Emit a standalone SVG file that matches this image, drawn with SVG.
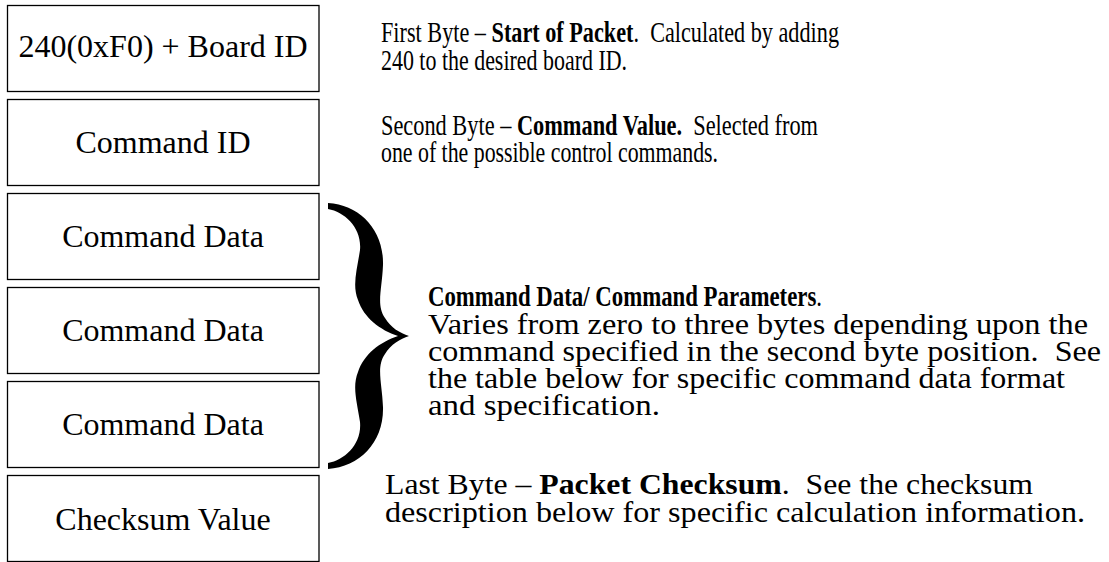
<svg xmlns="http://www.w3.org/2000/svg" width="1109" height="562" viewBox="0 0 1109 562">
  <style>
    .box { fill: #fff; stroke: #000; stroke-width: 1.3; }
    .cell { font-family: "Liberation Serif", "Times New Roman", serif; font-size: 32px; fill: #000; text-anchor: middle; }
    .note { font-family: "Liberation Serif", "Times New Roman", serif; font-size: 29.5px; fill: #000; white-space: pre; }
    .b { font-weight: bold; }
  </style>
  <rect width="1109" height="562" fill="#fff"/>

  <!-- packet byte cells -->
  <g id="byte-start">
    <rect class="box" x="7.5" y="5.5" width="311.5" height="86"/>
    <text class="cell" x="163" y="57">240(0xF0) + Board ID</text>
  </g>
  <g id="byte-command">
    <rect class="box" x="7.5" y="99.5" width="311.5" height="86"/>
    <text class="cell" x="163" y="153">Command ID</text>
  </g>
  <g id="byte-data1">
    <rect class="box" x="7.5" y="193.5" width="311.5" height="86"/>
    <text class="cell" x="163" y="247">Command Data</text>
  </g>
  <g id="byte-data2">
    <rect class="box" x="7.5" y="287.5" width="311.5" height="86"/>
    <text class="cell" x="163" y="341">Command Data</text>
  </g>
  <g id="byte-data3">
    <rect class="box" x="7.5" y="381.5" width="311.5" height="86"/>
    <text class="cell" x="163" y="435">Command Data</text>
  </g>
  <g id="byte-checksum">
    <rect class="box" x="7.5" y="475.5" width="311.5" height="86"/>
    <text class="cell" x="163" y="530">Checksum Value</text>
  </g>

  <!-- brace grouping the three data bytes -->
  <g id="connectors">
    <path id="data-brace" fill="#000" d="M 328 203 C 360 205, 384 230, 383 265 C 382 290, 376 305, 385 318 C 391 328, 400 333, 409 336 C 400 339, 391 344, 385 354 C 376 367, 382 382, 383 407 C 384 442, 360 467, 328 469 L 328 463 C 345 460, 362 444, 360 422 C 357 402, 352 387, 358 372 C 364 354, 380 342, 398 336 C 380 330, 364 318, 358 300 C 352 285, 357 270, 360 250 C 362 228, 345 212, 328 209 Z"/>
  </g>

  <!-- descriptions -->
  <g id="desc-start">
    <text class="note" x="381" y="42" textLength="458" lengthAdjust="spacingAndGlyphs">First Byte – <tspan class="b">Start of Packet</tspan>.  Calculated by adding</text>
    <text class="note" x="381" y="70" textLength="246" lengthAdjust="spacingAndGlyphs">240 to the desired board ID.</text>
  </g>
  <g id="desc-command">
    <text class="note" x="381" y="135" textLength="437" lengthAdjust="spacingAndGlyphs">Second Byte – <tspan class="b">Command Value.</tspan>  Selected from</text>
    <text class="note" x="381" y="162" textLength="337" lengthAdjust="spacingAndGlyphs">one of the possible control commands.</text>
  </g>
  <g id="desc-data">
    <text class="note" x="428" y="306" textLength="394" lengthAdjust="spacingAndGlyphs"><tspan class="b">Command Data/ Command Parameters</tspan>.</text>
    <text class="note" x="428" y="334" textLength="660" lengthAdjust="spacingAndGlyphs">Varies from zero to three bytes depending upon the</text>
    <text class="note" x="428" y="361" textLength="673" lengthAdjust="spacingAndGlyphs">command specified in the second byte position.  See</text>
    <text class="note" x="428" y="388" textLength="637" lengthAdjust="spacingAndGlyphs">the table below for specific command data format</text>
    <text class="note" x="428" y="415" textLength="232" lengthAdjust="spacingAndGlyphs">and specification.</text>
  </g>
  <g id="desc-checksum">
    <text class="note" x="385" y="494" textLength="648" lengthAdjust="spacingAndGlyphs">Last Byte – <tspan class="b">Packet Checksum</tspan>.  See the checksum</text>
    <text class="note" x="385" y="522" textLength="700" lengthAdjust="spacingAndGlyphs">description below for specific calculation information.</text>
  </g>
</svg>
